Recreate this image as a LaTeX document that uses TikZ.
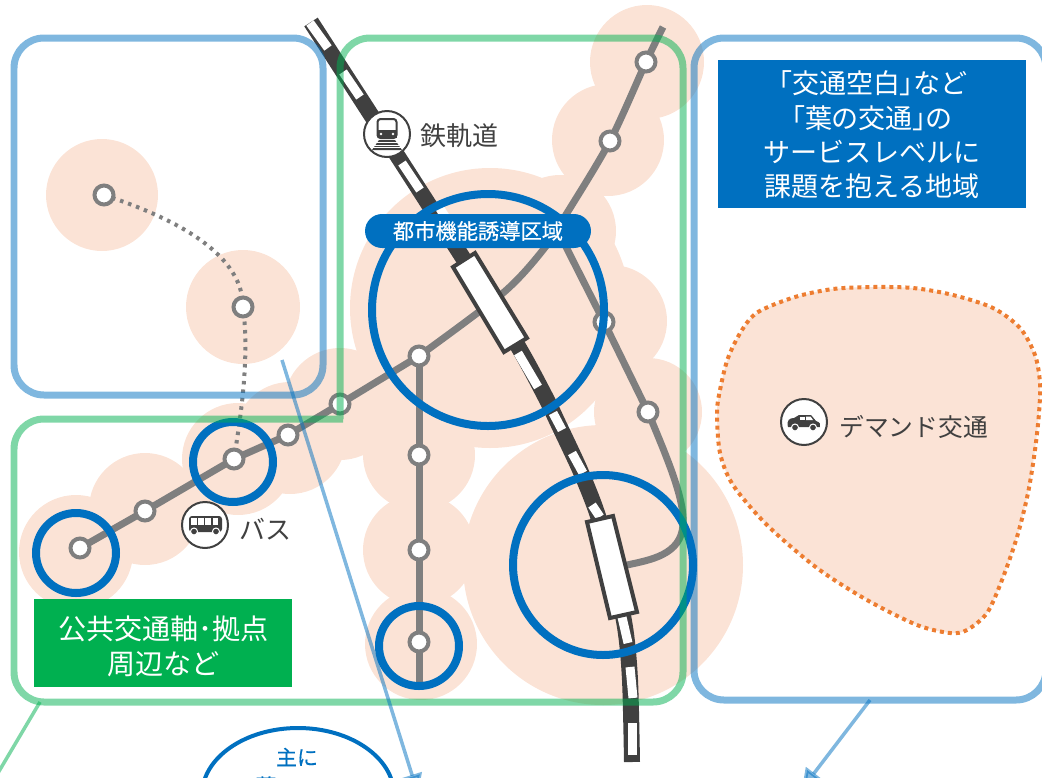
\documentclass[tikz,border=0pt]{standalone}
\usepackage{fontspec}
\setmainfont{Noto Sans CJK JP}
\newfontfamily\semibold[FakeBold=0.5]{Noto Sans CJK JP}
\usetikzlibrary{arrows.meta}
\definecolor{areablue}{HTML}{0070C0}
\definecolor{areagreen}{HTML}{00B050}
\definecolor{peach}{HTML}{FBE3D6}
\definecolor{routegray}{HTML}{7F7F7F}
\definecolor{raildark}{HTML}{404040}
\definecolor{demandline}{HTML}{ED7D31}
\def\labelfont#1{\fontsize{#1}{#1}\selectfont}
\tikzset{
	stop/.style={circle, draw=routegray, fill=white, line width=0.08cm, minimum size=0.38cm, inner sep=0},
	badge/.style={circle, draw=raildark, fill=white, line width=0.04cm, minimum size=0.92cm, inner sep=0},
	busline/.style={draw=routegray, line width=0.14cm},
	ring/.style={draw=areablue, line width=0.16cm},
	frameblue/.style={draw=areablue, draw opacity=0.5, line width=0.14cm, rounded corners=0.6cm},
	framegreen/.style={draw=areagreen, draw opacity=0.5, line width=0.14cm, rounded corners=0.6cm},
	pointer/.style={draw=areablue, opacity=0.5, line width=0.07cm, -{Triangle[length=0.4cm,width=0.4cm]}},
	traincar/.style={draw=raildark, fill=white, line width=0.08cm},
	signtext/.style={text=raildark, inner sep=0, anchor=west}
}
\begin{document}
\begin{tikzpicture}[x=0.02cm, y=-0.02cm]
	%%%%% START %%%%%
	\useasboundingbox (0, 0) rectangle (1042, 778);
	\clip (0, 0) rectangle (1042, 778);

	% walking areas
	\foreach \x/\y/\r in {102/195/56, 243/307/57, 647/62/57, 608/140/56, 490/308/140, 560/231/56,
		611/321/56, 648/412/54, 603/565/140, 419/455/56, 419/550/56, 421/644/56,
		340/404/56, 290/438/56, 238/459/56, 145/509/56, 76/552/57}
		\fill[peach] (\x, \y) circle (\r);

	% demand area
	\draw[fill=peach, draw=demandline, line width=0.08cm, dash pattern=on 0.08cm off 0.08cm]
		plot[smooth cycle, tension=0.5] coordinates {(717, 413) (720, 390) (728, 358) (742, 330) (758, 312) (795, 297)
		(833, 289) (873, 287) (913, 288) (953, 295) (993, 308) (1020, 328) (1035, 355) (1040, 383) (1039, 413)
		(1035, 450) (1028, 493) (1017, 537) (1002, 580) (987, 613) (967, 630) (950, 633) (917, 625) (867, 600)
		(817, 568) (767, 525) (733, 485) (720, 453)};

	% stops
	\coordinate (pa) at (80, 548);
	\coordinate (pb) at (145, 511);
	\coordinate (pc) at (234, 459);
	\coordinate (pd) at (288, 435);
	\coordinate (pe) at (340, 404);
	\coordinate (pf) at (419, 356);
	\coordinate (pg) at (419, 455);
	\coordinate (ph) at (419, 550);
	\coordinate (pi) at (419, 642);
	\coordinate (pj) at (604, 322);
	\coordinate (pk) at (648, 412);
	\coordinate (pl) at (610, 141);
	\coordinate (pm) at (646, 62);
	\coordinate (pn) at (104, 195);
	\coordinate (po) at (243, 307);

	% bus routes
	\draw[busline] (pa) -- (pb) -- (pc) -- (pd) -- (pe) -- (pf);
	\draw[busline] plot[smooth] coordinates {(pf) (503, 293) (543, 250) (567, 213) (pl) (pm) (663, 27)};
	\draw[busline] (pf) -- (419, 690);
	\draw[busline] (560, 235) -- (pj) -- (pk) .. controls (668, 460) and (685, 500) .. (683, 525)
		.. controls (681, 555) and (650, 560) .. (627, 565);
	\draw[draw=routegray, line width=0.08cm, dash pattern=on 0.07cm off 0.1cm]
		(pn) .. controls (165, 215) and (243, 250) .. (po) .. controls (250, 360) and (240, 420) .. (pc);

	% railway
	\draw[raildark, line width=0.32cm] plot[smooth] coordinates {(311, 22) (413, 180) (491, 302) (523, 355)
		(547, 400) (557, 421) (580, 470) (597, 513) (612, 565) (625, 627) (630, 680) (632, 762)};
	\foreach \xa/\ya/\xb/\yb in {310/23/328/48, 343/72/360/97, 402/163/420/190, 439/207/455/232,
		518/353/538/387, 553/413/562/430, 572/453/583/473, 592/505/600/517,
		622/617/628/643, 630/667/633/698, 632/723/632/755}
		\draw[white, line width=0.18cm] (\xa, \ya) -- (\xb, \yb);
	\draw[traincar] (453, 267) -- (475, 253) -- (527, 338) -- (504, 352) -- cycle;
	\draw[traincar] (587, 522) -- (613, 516) -- (637, 612) -- (610, 618) -- cycle;

	\foreach \p in {pa, pb, pc, pd, pe, pf, pg, ph, pi, pj, pk, pl, pm, pn, po}
		\node[stop] (n\p) at (\p) {};

	% hub rings
	\draw[ring] (488, 310) circle (116);
	\draw[ring] (603, 565) circle (90);
	\draw[ring] (76, 553) circle (40);
	\draw[ring] (233, 462) circle (40);
	\draw[ring] (419, 646) circle (40);

	% frames
	\draw[frameblue] (14, 38) rectangle (323, 395);
	\draw[frameblue] (694, 38) rectangle (1046, 700);
	\draw[framegreen] (343, 419) -- (14, 419) -- (14, 702) -- (683, 702) -- (683, 38) -- (340, 38) -- (340, 419);

	% pointers
	\coordinate (fa) at (282, 360);
	\coordinate (fb) at (418, 794);
	\coordinate (fc) at (870, 700);
	\coordinate (fd) at (802, 789);
	\coordinate (fe) at (40, 702);
	\coordinate (ff) at (-5, 778);
	\draw[pointer] (fa) -- (fb);
	\draw[pointer] (fc) -- (fd);
	\draw[line width=0.07cm, draw=areagreen, draw opacity=0.5] (fe) -- (ff);

	% labels
	\node[fill=areablue, rounded corners=0.34cm, minimum width=4.52cm, minimum height=0.68cm, inner sep=0, text=white,
		font=\labelfont{12.1}\semibold]
		(urban) at (478, 231) {都市機能誘導区域};
	\fill[areablue] (718, 60) rectangle (1026, 208);
	\node[inner sep=0, text=white, align=center, font=\fontsize{15.4}{19.6}\selectfont]
		(gapbox) at (872, 135) {{\addfontfeature{RawFeature=+palt}「交通空白」など}\\{\addfontfeature{RawFeature=+palt}「葉の交通」の}\\サービスレベルに\\課題を抱える地域};
	\fill[areagreen] (34, 599) rectangle (292, 687);
	\node[inner sep=0, text=white, align=center, font=\fontsize{16}{19.9}\selectfont]
		(axisbox) at (163.5, 646) {公共交通軸･拠点\\周辺など};

	% rail sign
	\node[badge] (railbadge) at (387, 134) {};
	\draw[raildark, fill=white, line width=0.04cm, rounded corners=0.06cm] (377.5, 119) rectangle (396.5, 138);
	\fill[raildark] (377.5, 130) rectangle (396.5, 138);
	\fill[white] (380, 122.5) rectangle (394, 129);
	\fill[white] (381, 134) circle (1.3);
	\fill[white] (393, 134) circle (1.3);
	\fill[raildark] (379, 140) -- (395, 140) -- (402, 150) -- (372, 150) -- cycle;
	\foreach \y in {142.5, 145, 147.5}
		\draw[white, line width=0.015cm] (370, \y) -- (404, \y);
	\node[signtext] (railtext) at (420, 136) {\labelfont{14.8}鉄軌道};

	% bus sign
	\node[badge] (busbadge) at (205, 525) {};
	\fill[raildark, rounded corners=0.06cm] (189, 516) rectangle (222, 532);
	\foreach \x in {191, 198, 205, 212.5}
		\fill[white] (\x, 518) rectangle (\x+5.7, 524.5);
	\fill[raildark, draw=white, line width=0.02cm] (194, 531.5) circle (3.5);
	\fill[raildark, draw=white, line width=0.02cm] (216, 531.5) circle (3.5);
	\node[signtext] (bustext) at (239, 529) {\labelfont{14.8}バス};

	% car sign
	\node[badge] (carbadge) at (804, 422) {};
	\fill[raildark] (788, 427) .. controls (786, 420) and (790, 418) .. (794, 418) -- (799, 415) -- (811, 415)
		-- (816, 421) .. controls (820, 422) and (821, 425) .. (820, 427) -- cycle;
	\fill[white] (800, 416.5) rectangle (804.5, 420);
	\fill[white] (806, 416.5) -- (810.5, 416.5) -- (813, 420) -- (806, 420) -- cycle;
	\fill[raildark, draw=white, line width=0.02cm] (795, 427.5) circle (3.5);
	\fill[raildark, draw=white, line width=0.02cm] (813, 427.5) circle (3.5);
	\node[signtext] (cartext) at (839, 427) {\labelfont{14.1}デマンド交通};

	% cut off note
	\draw[areablue, line width=0.08cm] (298, 795) ellipse (96 and 67);
	\node[text=areablue, inner sep=0, font=\labelfont{11.9}\semibold] (mainly) at (297, 757) {主に};
	\node[text=areablue, inner sep=0, font=\labelfont{11.9}\semibold] (leaf) at (266, 786) {葉};
	%%%%% END %%%%%
\end{tikzpicture}
\end{document}
